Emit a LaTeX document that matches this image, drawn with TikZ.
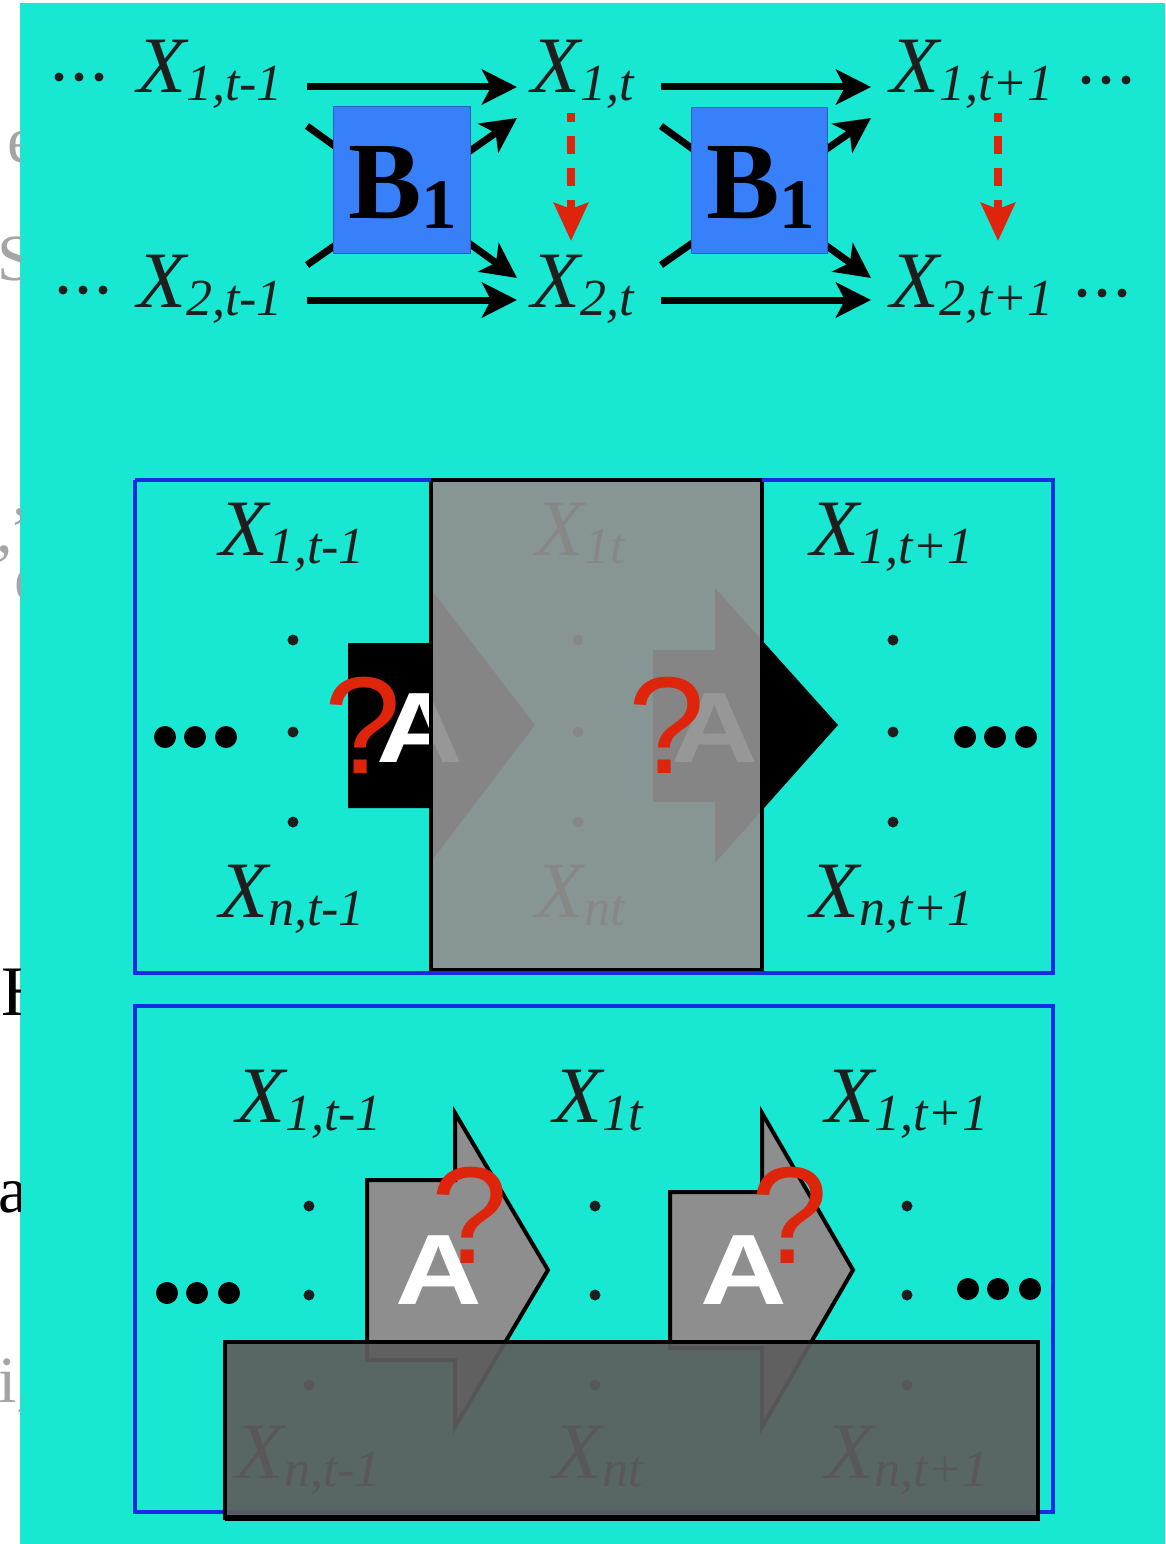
\documentclass[tikz,border=0pt]{standalone}
\usepackage{fontspec}
\usepackage{graphicx}
\setmainfont{Liberation Serif}
\newfontfamily\sansA{Liberation Sans}
\usetikzlibrary{arrows.meta}
\definecolor{cyanbg}{RGB}{24,232,210}
\definecolor{labc}{RGB}{30,30,30}
\definecolor{redc}{RGB}{222,36,10}
\definecolor{bluesq}{RGB}{56,128,250}
\definecolor{frameblue}{RGB}{20,45,228}
\definecolor{greyov}{RGB}{144,144,144}
\definecolor{darkov}{RGB}{93,93,93}
\definecolor{arrgrey}{RGB}{142,142,142}
\definecolor{fraggrey}{RGB}{165,165,165}
\newcommand{\xlab}[1]{\fontsize{80}{80}\selectfont\itshape X\raisebox{-8pt}{\fontsize{52}{52}\selectfont #1}}
\newcommand{\bone}{{\fontsize{110}{110}\selectfont\bfseries B}\raisebox{-10pt}{\fontsize{71}{71}\selectfont\bfseries 1}}
\tikzset{
  lab/.style={anchor=base west, inner sep=0pt, text=labc},
  vdot/.style={fill=labc, draw=none},
  bigdot/.style={fill=black, draw=none},
  blk/.style={line width=7pt, -{Stealth[length=35pt,width=35pt,inset=9pt]}},
  reddash/.style={draw=redc, line width=7.5pt, dash pattern=on 18pt off 14pt, dash phase=9pt, -{Stealth[length=38pt,width=34pt,inset=6pt,fill=redc]}},
  bsq/.style={fill=bluesq, draw=bluesq!75!black, line width=1pt},
  bframe/.style={draw=frameblue, line width=4pt},
  qmark/.style={text=redc, font=\sansA\fontsize{138}{138}\selectfont, inner sep=0pt},
  abig/.style={text=white, font=\sansA\bfseries\fontsize{100}{100}\selectfont, inner sep=0pt},
  frag/.style={anchor=base west, inner sep=0pt, text=fraggrey, font=\fontsize{66}{66}\selectfont},
}
\begin{document}
\begin{tikzpicture}[x=1pt,y=-1pt]
\useasboundingbox (0,0) rectangle (1165,1544);
\fill[white] (0,0) rectangle (1165,1544);
\fill[cyanbg] (20,3) rectangle (1165,1544);

% fragments of slide text at the left edge
\begin{scope}
\clip (0,0) rectangle (20,1544);
\node[frag] (f1) at (7,162) {e};
\node[frag] (f2) at (-3,280) {SA};
\node[frag] (f3) at (-4,552) {,”};
\node[frag] (f4) at (14,600) {e};
\node[frag, text=black, font=\fontsize{71}{71}\selectfont] (f5) at (1,1015) {H};
\node[frag, text=black] (f6) at (-2,1212) {an};
\node[frag] (f7) at (-2,1402) {i,};
\end{scope}

% ================= top section =================
\foreach \xx in {59,79,99}{ \fill[vdot] (\xx,77) circle (4.5); }
\foreach \xx in {63,83,103}{ \fill[vdot] (\xx,290) circle (4.5); }
\foreach \xx in {1086,1106,1126}{ \fill[vdot] (\xx,80) circle (4.5); }
\foreach \xx in {1082,1102,1122}{ \fill[vdot] (\xx,293) circle (4.5); }

\node[lab] (x1a) at (137,93) {\xlab{1,t-1}};
\node[lab] (x1b) at (531,93) {\xlab{1,t}};
\node[lab] (x1c) at (890,93) {\xlab{1,t+1}};
\node[lab] (x2a) at (137,307) {\xlab{2,t-1}};
\node[lab] (x2b) at (531,307) {\xlab{2,t}};
\node[lab] (x2c) at (890,307) {\xlab{2,t+1}};

\coordinate (a1s) at (307,87);  \coordinate (a1e) at (517,87);
\coordinate (a2s) at (307,300); \coordinate (a2e) at (517,300);
\coordinate (a3s) at (661,87);  \coordinate (a3e) at (871,87);
\coordinate (a4s) at (661,300); \coordinate (a4e) at (871,300);
\coordinate (c1s) at (307,126); \coordinate (c1e) at (517,278);
\coordinate (c2s) at (307,265); \coordinate (c2e) at (517,118);
\coordinate (c3s) at (661,126); \coordinate (c3e) at (871,278);
\coordinate (c4s) at (661,265); \coordinate (c4e) at (871,118);

\draw[blk] (a1s) -- (a1e);
\draw[blk] (a2s) -- (a2e);
\draw[blk] (a3s) -- (a3e);
\draw[blk] (a4s) -- (a4e);
\draw[blk] (c1s) -- (c1e);
\draw[blk] (c2s) -- (c2e);
\draw[blk] (c3s) -- (c3e);
\draw[blk] (c4s) -- (c4e);

\node[bsq, minimum width=137pt, minimum height=146pt, inner sep=0pt] (sq1) at (401.5,180) {};
\node[bsq, minimum width=136pt, minimum height=145pt, inner sep=0pt] (sq2) at (759,180.5) {};
\node[lab, text=black] (b1) at (348,218) {\bone};
\node[lab, text=black] (b2) at (706,218) {\bone};

\coordinate (r1s) at (571,113); \coordinate (r1e) at (571,241);
\coordinate (r2s) at (998,113); \coordinate (r2e) at (998,241);
\draw[reddash] (r1s) -- (r1e);
\draw[reddash] (r2s) -- (r2e);

% ================= middle section =================
\node[lab] (m1a) at (219,555) {\xlab{1,t-1}};
\node[lab] (mna) at (219,917) {\xlab{n,t-1}};
\node[lab] (m1b) at (535,555) {\xlab{1t}};
\node[lab] (mnb) at (535,917) {\xlab{nt}};
\node[lab] (m1c) at (810,555) {\xlab{1,t+1}};
\node[lab] (mnc) at (810,917) {\xlab{n,t+1}};
\foreach \xx in {293,578,893}{
  \foreach \yy in {640,732,822}{
    \fill[vdot] (\xx,\yy) circle (5.5);
  }
}
\foreach \xx in {165,195,226,965,995,1026}{
  \fill[bigdot] (\xx,737) circle (11);
}
% A-arrows (black)
\fill[black] (348,643) -- (430,643) -- (430,588) -- (535,725) -- (430,863) -- (430,808) -- (348,808) -- cycle;
\fill[black] (653,650) -- (715,650) -- (715,588) -- (838,725) -- (715,863) -- (715,802) -- (653,802) -- cycle;
\node[abig] (mA1) at (420,728) {\scalebox{1.2}[1]{A}};
\node[abig] (mA2) at (715,728) {\scalebox{1.2}[1]{A}};
% grey overlay
\fill[greyov, fill opacity=0.93] (431,480) rectangle (762,970);
\draw[black, line width=4pt] (431,480) rectangle (762,970);
\draw[bframe] (135,480) -- (431,480) (135,480) -- (135,973) -- (1053,973) -- (1053,480) -- (762,480);
\node[qmark] (mq1) at (363,725) {?};
\node[qmark] (mq2) at (667,725) {?};

% ================= lower section =================
\draw[bframe] (135,1006) rectangle (1053,1512);
\node[lab] (l1a) at (236,1122) {\xlab{1,t-1}};
\node[lab] (l1b) at (553,1122) {\xlab{1t}};
\node[lab] (l1c) at (825,1122) {\xlab{1,t+1}};
\node[lab] (lna) at (235,1478) {\xlab{n,t-1}};
\node[lab] (lnb) at (553,1478) {\xlab{nt}};
\node[lab] (lnc) at (825,1478) {\xlab{n,t+1}};
\foreach \xx in {309,595,907}{
  \foreach \yy in {1206,1295,1385}{
    \fill[vdot] (\xx,\yy) circle (5.5);
  }
}
\foreach \xx in {167,197,229}{ \fill[bigdot] (\xx,1293) circle (11); }
\foreach \xx in {968,998,1030}{ \fill[bigdot] (\xx,1289) circle (11); }
\draw[fill=arrgrey, draw=black, line width=4pt, line join=miter] (367,1180) -- (455,1180) -- (455,1113) -- (548,1270) -- (455,1427) -- (455,1360) -- (367,1360) -- cycle;
\draw[fill=arrgrey, draw=black, line width=4pt, line join=miter] (670,1192) -- (762,1192) -- (762,1113) -- (853,1270) -- (762,1427) -- (762,1348) -- (670,1348) -- cycle;
\node[abig] (lA1) at (439,1270) {\scalebox{1.2}[1]{A}};
\node[abig] (lA2) at (744,1270) {\scalebox{1.2}[1]{A}};
\node[qmark] (lq1) at (470,1215) {?};
\node[qmark] (lq2) at (790,1215) {?};
% dark overlay
\fill[darkov, fill opacity=0.933] (225,1342) rectangle (1038,1518);
\draw[black, line width=4pt] (225,1342) rectangle (1038,1518);
\draw[black, line width=6pt] (225,1518) -- (1040,1518);
\end{tikzpicture}
\end{document}
